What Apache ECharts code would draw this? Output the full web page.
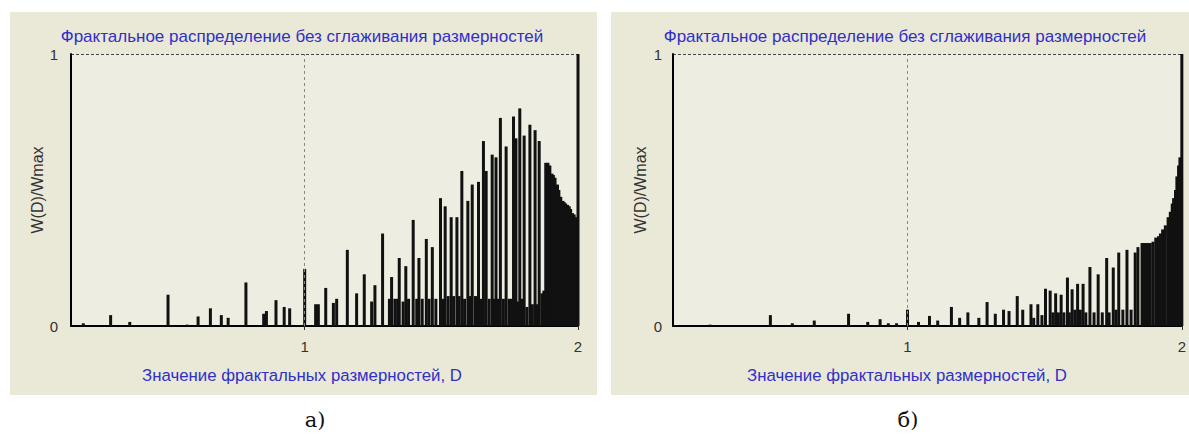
<!DOCTYPE html>
<html><head><meta charset="utf-8">
<script src="https://cdn.jsdelivr.net/npm/echarts@6/dist/echarts.min.js"></script>
<style>html,body{margin:0;padding:0;background:#fff;}#c{width:1189px;height:439px;}</style>
</head><body><div id="c"></div>
<script>
// ---- texts ----
const titleText = 'Фрактальное распределение без сглаживания размерностей';
const xName = 'Значение фрактальных размерностей, D';
const yName = 'W(D)/Wmax';
const panelLabels = ['а)', 'б)'];
// ---- axes ----
const xTicks = [1, 2];
const xMin = 0.145, xMax = 2;
const yMin = 0, yMax = 1;

// ---- panel а): tall bars ----
const aPeakD = [0.19,0.29,0.36,0.50,0.57,0.61,0.655,0.695,0.72,0.785,0.85,0.86,0.895,0.925,0.945,
  1.00,1.04,1.05,1.077,1.105,1.117,1.156,1.19,1.218,1.245,1.257,1.285,1.318,1.33,1.346,1.37,1.397,1.418,1.445,1.467,
  1.497,1.514,1.536,1.557,1.575,1.597,1.613,1.636,1.654,1.664,1.686,1.70,1.716,1.737,1.764,1.773,1.787,1.803,
  1.824,1.843,1.858,1.882,1.89,1.897,1.905,1.91,1.916,1.925,1.93,1.937,1.945,1.95,1.955,1.962,1.968,1.973,1.98,1.986,1.993,2.0];
const aPeakW = [0.01,0.04,0.015,0.115,0.005,0.035,0.065,0.04,0.03,0.16,0.045,0.055,0.095,0.07,0.065,
  0.21,0.08,0.08,0.14,0.085,0.10,0.28,0.12,0.19,0.09,0.15,0.34,0.18,0.10,0.25,0.22,0.39,0.25,0.32,0.29,
  0.47,0.44,0.40,0.40,0.57,0.46,0.52,0.53,0.68,0.57,0.63,0.62,0.765,0.66,0.77,0.69,0.80,0.70,
  0.74,0.72,0.68,0.60,0.60,0.59,0.56,0.555,0.545,0.52,0.50,0.475,0.46,0.455,0.45,0.445,0.44,0.43,0.415,0.41,0.40,1.0];
// ---- panel а): low bars between the tall ones ----
const aFloorD = [1.31,1.34,1.36,1.38,1.41,1.43,1.455,1.48,1.505,1.525,1.545,1.565,1.585,1.605,1.625,1.645,
  1.675,1.693,1.708,1.727,1.748,1.756,1.78,1.795,1.813,1.833,1.85,1.868,1.875];
const aFloorW = [0.10,0.10,0.09,0.10,0.10,0.10,0.10,0.10,0.10,0.11,0.11,0.11,0.10,0.11,0.11,0.10,
  0.10,0.10,0.10,0.10,0.10,0.10,0.09,0.10,0.07,0.08,0.08,0.12,0.13];

// ---- panel б): tall bars ----
const bPeakD = [0.28,0.50,0.58,0.66,0.785,0.855,0.90,0.93,0.96,
  1.00,1.04,1.08,1.11,1.16,1.19,1.22,1.26,1.29,1.32,1.35,1.37,1.40,1.42,1.45,1.475,
  1.503,1.52,1.54,1.56,1.583,1.60,1.62,1.64,1.665,1.695,1.726,1.75,1.77,1.80,1.83,1.84,
  1.855,1.862,1.87,1.878,1.885,1.895,1.905,1.915,1.922,1.93,1.94,1.95,1.958,1.965,1.97,1.977,1.982,1.988,1.993,2.0];
const bPeakW = [0.005,0.04,0.01,0.02,0.045,0.015,0.025,0.01,0.01,
  0.06,0.015,0.037,0.02,0.07,0.03,0.05,0.03,0.088,0.045,0.06,0.055,0.11,0.06,0.08,0.08,
  0.137,0.13,0.12,0.115,0.178,0.135,0.155,0.155,0.217,0.19,0.25,0.215,0.27,0.28,0.27,0.29,
  0.305,0.305,0.305,0.305,0.305,0.31,0.325,0.33,0.34,0.355,0.37,0.40,0.42,0.45,0.47,0.50,0.55,0.59,0.62,1.0];
// ---- panel б): low bars ----
const bFloorD = [1.46,1.49,1.53,1.55,1.57,1.59,1.61,1.63,1.65,1.68,1.71,1.735,1.76,1.785,1.815];
const bFloorW = [0.03,0.04,0.05,0.05,0.05,0.05,0.06,0.06,0.05,0.05,0.05,0.05,0.06,0.06,0.06];

const pairs = (d, w) => d.map((v, i) => [v, w[i]]);
const aData = pairs(aFloorD, aFloorW).concat(pairs(aPeakD, aPeakW));
const bData = pairs(bFloorD, bFloorW).concat(pairs(bPeakD, bPeakW));

const BLUE = '#3030c8';
const PANEL_BG = '#eae8d7';
const PLOT_BG = '#eeede1';
const FONT = '"Liberation Sans", Arial, sans-serif';

// font size that makes a text span a given width
function fitSize(text, target) {
  const ctx = document.createElement('canvas').getContext('2d');
  ctx.font = '100px ' + FONT;
  return Math.round(1000 * target / ctx.measureText(text).width) / 10;
}
const titleSize = fitSize(titleText, 483);
const xNameSize = fitSize(xName, 321);

const grids = [
  {left: 71, right: 611, top: 54, bottom: 113, show: true, backgroundColor: PLOT_BG, borderWidth: 0},
  {left: 673, right: 7, top: 54, bottom: 113, show: true, backgroundColor: PLOT_BG, borderWidth: 0}
];

function mkX(idx) {
  return {
    type: 'value', gridIndex: idx, min: xMin, max: xMax,
    axisLine: {show: true, onZero: false, lineStyle: {color: '#000', width: 2}},
    axisTick: {show: true, customValues: xTicks, length: 4, lineStyle: {color: '#333'}},
    axisLabel: {show: true, customValues: xTicks, margin: 13, color: '#333', fontSize: 15, fontFamily: FONT},
    splitLine: {show: false}
  };
}
function mkY(idx, margin, gap) {
  return {
    type: 'value', gridIndex: idx, min: yMin, max: yMax, interval: 1,
    name: yName, nameLocation: 'middle', nameGap: gap, nameRotate: 90,
    nameTextStyle: {color: '#333', fontSize: 16, fontFamily: FONT},
    axisLine: {show: true, lineStyle: {color: '#000', width: 2}},
    axisTick: {show: false},
    axisLabel: {margin: margin, color: '#333', fontSize: 15, fontFamily: FONT},
    splitLine: {show: true, lineStyle: {color: '#444', type: [3, 2], width: 1}}
  };
}
function mkSeries(idx, data) {
  return {
    type: 'bar', xAxisIndex: idx, yAxisIndex: idx, data: data,
    barWidth: 3, itemStyle: {color: '#111'}, clip: false, animation: false, silent: true,
    markLine: {silent: true, symbol: 'none', label: {show: false},
      lineStyle: {color: '#888', type: [3, 3], width: 1},
      data: [{xAxis: 1}]}
  };
}

const chart = echarts.init(document.getElementById('c'), null, {renderer: 'svg'});
chart.setOption({
  backgroundColor: '#ffffff',
  animation: false,
  graphic: [
    {type: 'rect', z: -10, shape: {x: 10, y: 12, width: 587, height: 383}, style: {fill: PANEL_BG}},
    {type: 'rect', z: -10, shape: {x: 611, y: 12, width: 578, height: 383}, style: {fill: PANEL_BG}},
    {type: 'text', x: 302, y: 36, style: {text: titleText, fill: BLUE, font: titleSize + 'px ' + FONT, align: 'center', verticalAlign: 'middle'}},
    {type: 'text', x: 905, y: 36, style: {text: titleText, fill: BLUE, font: titleSize + 'px ' + FONT, align: 'center', verticalAlign: 'middle'}},
    {type: 'text', x: 302, y: 375, style: {text: xName, fill: BLUE, font: xNameSize + 'px ' + FONT, align: 'center', verticalAlign: 'middle'}},
    {type: 'text', x: 907, y: 375, style: {text: xName, fill: BLUE, font: xNameSize + 'px ' + FONT, align: 'center', verticalAlign: 'middle'}},
    {type: 'text', x: 315, y: 420, style: {text: panelLabels[0], fill: '#111', font: '21px "DejaVu Serif"', align: 'center', verticalAlign: 'middle'}},
    {type: 'text', x: 908, y: 420, style: {text: panelLabels[1], fill: '#111', font: '21px "DejaVu Serif"', align: 'center', verticalAlign: 'middle'}}
  ],
  grid: grids,
  xAxis: [mkX(0), mkX(1)],
  yAxis: [mkY(0, 13, 21), mkY(1, 11, 25)],
  series: [mkSeries(0, aData), mkSeries(1, bData)]
});
</script></body></html>
